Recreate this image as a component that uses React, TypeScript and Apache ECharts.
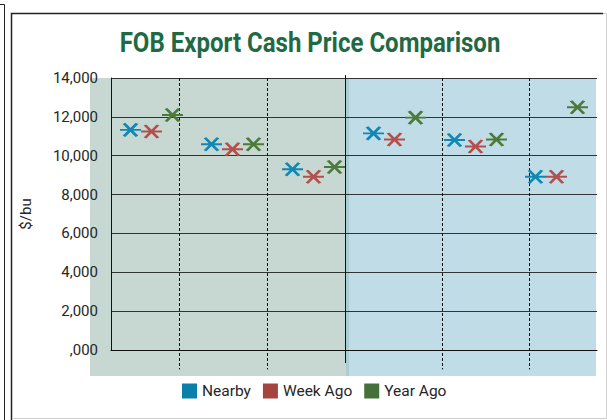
import React, { useEffect, useRef } from "react";
import * as echarts from "echarts";

const titleText = "FOB Export Cash Price Comparison";
const yAxisTitle = "$/bu";
const categories = ["1", "2", "3", "4", "5", "6"];
const seriesNames = ["Nearby", "Week Ago", "Year Ago"];
const nearby = [11330, 10590, 9300, 11150, 10810, 8920];
const weekAgo = [11250, 10330, 8920, 10840, 10470, 8920];
const yearAgo = [12100, 10590, 9420, 11960, 10840, 12490];
const yTickLabels = [",000", "2,000", "4,000", "6,000", "8,000", "10,000", "12,000", "14,000"];
// vertical divider lines on a hidden 0..6 value axis: [x, yTop, yBottom, solid(1)/dashed(0)]
const dividers = [
  [0.84, 14000, -1000, 0],
  [1.93, 14000, -1000, 0],
  [2.89, 14150, -670, 1],
  [4.09, 14000, -1000, 0],
  [5.16, 14000, -1000, 0],
];

const markerColors = ["#1087b4", "#b34f4c", "#4d7a3b"];
const legendColors = ["#0b7fab", "#a6453f", "#46703a"];
const offsets = [-21, 0, 21];
const starPath = "path://M0,6.5 L21,6.5 M4,0 L17,13 M17,0 L4,13";
const FONT = "Roboto, 'Noto Sans', sans-serif";

export default function App() {
  const ref = useRef<HTMLDivElement>(null);
  useEffect(() => {
    if (!ref.current) return;
    const chart = echarts.init(ref.current, undefined, { renderer: "svg" });
    const values = [nearby, weekAgo, yearAgo];
    const option: any = {
      animation: false,
      backgroundColor: "#ffffff",
      textStyle: { fontFamily: FONT },
      grid: { left: 111, top: 78, right: 10, bottom: 70, containLabel: false },
      graphic: [
        // page frame
        { type: "polyline", z: -20, silent: true, shape: { points: [[0, 4.5], [4.5, 4.5], [4.5, 420]] }, style: { stroke: "#222", lineWidth: 1, fill: "none" } },
        { type: "polyline", z: -20, silent: true, shape: { points: [[11.5, 420], [11.5, 13.5], [603, 13.5]] }, style: { stroke: "#222", lineWidth: 1.5, fill: "none" } },
        { type: "polyline", z: -20, silent: true, shape: { points: [[603, 13.5], [606.5, 13.5], [606.5, 418.5], [12, 418.5]] }, style: { stroke: "#cfcfcf", lineWidth: 1, fill: "none" } },
        // shaded panels
        { type: "rect", z: -10, silent: true, shape: { x: 90, y: 78, width: 257, height: 298 }, style: { fill: "#c6d8d1" } },
        { type: "rect", z: -10, silent: true, shape: { x: 347, y: 78, width: 249, height: 298 }, style: { fill: "#c0dde7" } },
        { type: "rect", z: -9, silent: true, shape: { x: 346, y: 78, width: 3, height: 298 }, style: { fill: "#a9cdd3" } },
        // title
        {
          type: "text",
          x: 310,
          y: 42,
          scaleX: 0.89,
          silent: true,
          style: {
            text: titleText,
            font: `bold 27px ${FONT}`,
            fill: "#1f6a45",
            align: "center",
            verticalAlign: "middle",
          },
        },
      ],
      legend: {
        left: 177,
        top: 378,
        itemWidth: 15,
        itemHeight: 15,
        itemGap: 12,
        icon: "rect",
        textStyle: { fontSize: 15.5, color: "#262626", fontFamily: FONT },
        data: seriesNames.map((n, i) => ({
          name: n,
          icon: "rect",
          itemStyle: { color: legendColors[i], borderWidth: 0 },
        })),
      },
      xAxis: [
        {
          type: "category",
          data: categories,
          axisLine: { show: true, lineStyle: { color: "#111", width: 1 } },
          axisTick: { show: false },
          axisLabel: { show: false },
          splitLine: { show: false },
        },
        {
          type: "value",
          min: 0,
          max: 6,
          show: false,
        },
      ],
      yAxis: {
        type: "value",
        min: 0,
        max: 14000,
        interval: 2000,
        name: yAxisTitle,
        nameLocation: "middle",
        nameGap: 78,
        nameRotate: 90,
        nameTextStyle: { fontSize: 15, color: "#262626", fontFamily: FONT },
        axisLine: { show: true, lineStyle: { color: "#111", width: 1 } },
        axisTick: { show: false },
        axisLabel: {
          fontSize: 15,
          color: "#262626",
          fontFamily: FONT,
          margin: 13,
          formatter: (v: number) => yTickLabels[Math.round(v / 2000)] ?? "",
        },
        splitLine: { show: true, lineStyle: { color: "#333", width: 1 } },
      },
      series: [
        {
          type: "custom",
          xAxisIndex: 1,
          yAxisIndex: 0,
          silent: true,
          clip: false,
          z: 1,
          data: dividers,
          encode: { x: 0, y: 1 },
          renderItem: (params: any, api: any) => {
            const x = api.value(0);
            const p1 = api.coord([x, api.value(1)]);
            const p2 = api.coord([x, api.value(2)]);
            const solid = api.value(3) === 1;
            const px = Math.round(p1[0]) + 0.5;
            return {
              type: "line",
              shape: { x1: px, y1: p1[1], x2: px, y2: p2[1] },
              style: { stroke: "#111", lineWidth: 1, lineDash: solid ? null : [3, 2] },
            };
          },
        },
        ...seriesNames.map((n, i) => ({
          name: n,
          type: "scatter",
          xAxisIndex: 0,
          yAxisIndex: 0,
          data: values[i],
          symbol: starPath,
          symbolSize: [21, 13],
          symbolOffset: [offsets[i], 0],
          z: 5,
          itemStyle: { color: markerColors[i], borderColor: markerColors[i], borderWidth: 2.5, opacity: 1 },
        })),
      ],
    };
    chart.setOption(option);
    return () => chart.dispose();
  }, []);
  return (
    <div
      ref={ref}
      style={{ position: "fixed", left: 0, top: 0, width: 607, height: 420 }}
    />
  );
}
